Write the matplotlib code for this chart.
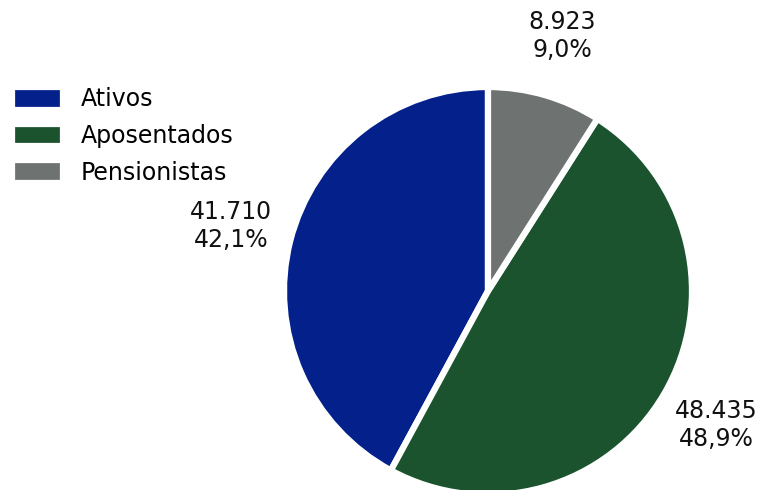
import matplotlib.pyplot as plt

categorias = ["Ativos", "Aposentados", "Pensionistas"]
quantidades = [41710, 48435, 8923]
cores = ["#03208b", "#1a532e", "#6e7270"]


def rotulo(pct):
    total = sum(quantidades)
    valor = int(round(pct * total / 100.0))
    txt_valor = f"{valor:,}".replace(",", ".")
    txt_pct = f"{pct:.1f}%".replace(".", ",")
    return f"{txt_valor}\n{txt_pct}"


fig = plt.figure(figsize=(7.57, 4.9), dpi=100)
W, H = 757, 490
cx, cy, r = 488, 291, 204
ax = fig.add_axes([(cx - r) / W, (H - cy - r) / H, 2 * r / W, 2 * r / H])

wedges, texts, autotexts = ax.pie(
    quantidades,
    colors=cores,
    startangle=90,
    counterclock=True,
    autopct=rotulo,
    pctdistance=1.3,
    wedgeprops=dict(edgecolor="white", linewidth=4.5),
    textprops=dict(fontsize=17, color="#111111"),
)
for w in wedges:
    w.set_clip_on(False)

ax.set_xlim(-1, 1)
ax.set_ylim(-1, 1)
ax.set_aspect("equal")
ax.axis("off")

fig.legend(
    wedges, categorias,
    loc="upper left",
    bbox_to_anchor=(12 / W, 1 - 87 / H),
    borderaxespad=0,
    borderpad=0,
    frameon=False,
    fontsize=17,
    handlelength=2.15,
    handleheight=1.1,
    handletextpad=0.75,
    labelspacing=0.52,
)

fig.savefig("out.png", dpi=100)
